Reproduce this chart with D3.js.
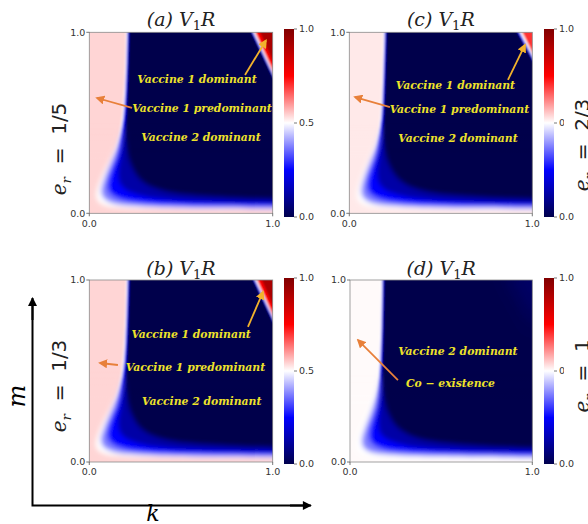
<!DOCTYPE html>
<meta charset="utf-8">
<script src="https://d3js.org/d3.v7.min.js"></script>
<style>
  body { margin: 0; background: #fff; }
</style>
<div id="chart"></div>
<script>

// ---- data ----
var panelTags = ["(a)", "(b)", "(c)", "(d)"];
var erLabels = ["1/5", "1/3", "2/3", "1"];
var leftValues = [0.541, 0.541, 0.522, 0.505];   // value of the flat region at small k
var cbTicks = [0, 0.5, 1];
var cbTickLabels = ["0.0", "0.5", "1.0"];
var axisTicks = [0, 1];
var axisTickLabels = ["0.0", "1.0"];

// contour lines of V1R in (k, m), from m = 1 down and round to k = 1
var contoursA = [
  [0.5,   [[0.200,1],[0.193,0.75],[0.180,0.55],[0.165,0.45],[0.140,0.36],[0.110,0.29],[0.080,0.23],[0.055,0.17],[0.040,0.12],[0.040,0.085],[0.055,0.06],[0.090,0.042],[0.16,0.032],[0.30,0.026],[0.60,0.022],[1,0.020]]],
  [0.375, [[0.206,1],[0.199,0.75],[0.187,0.55],[0.172,0.45],[0.150,0.36],[0.123,0.29],[0.097,0.23],[0.077,0.175],[0.066,0.13],[0.070,0.10],[0.090,0.075],[0.13,0.056],[0.22,0.043],[0.40,0.034],[0.70,0.029],[1,0.026]]],
  [0.25,  [[0.210,1],[0.203,0.75],[0.192,0.55],[0.179,0.45],[0.160,0.36],[0.138,0.29],[0.118,0.235],[0.104,0.185],[0.100,0.145],[0.110,0.115],[0.14,0.09],[0.19,0.072],[0.30,0.056],[0.50,0.045],[1,0.037]]],
  [0.125, [[0.214,1],[0.208,0.75],[0.198,0.55],[0.188,0.45],[0.176,0.36],[0.165,0.29],[0.158,0.24],[0.158,0.20],[0.170,0.16],[0.200,0.13],[0.25,0.108],[0.35,0.084],[0.55,0.066],[1,0.054]]],
  [0.0,   [[0.218,1],[0.212,0.75],[0.205,0.55],[0.200,0.45],[0.205,0.36],[0.215,0.30],[0.235,0.25],[0.265,0.20],[0.30,0.168],[0.36,0.138],[0.45,0.114],[0.65,0.094],[1,0.078]]]
];
var contoursB = [
  [0.5,   [[0.201,1],[0.194,0.75],[0.182,0.55],[0.167,0.45],[0.142,0.36],[0.112,0.29],[0.080,0.23],[0.054,0.17],[0.038,0.12],[0.037,0.085],[0.052,0.06],[0.088,0.043],[0.16,0.033],[0.30,0.027],[0.60,0.023],[1,0.021]]],
  [0.375, [[0.207,1],[0.200,0.75],[0.189,0.55],[0.174,0.45],[0.152,0.36],[0.125,0.29],[0.098,0.23],[0.077,0.175],[0.064,0.13],[0.068,0.10],[0.088,0.075],[0.13,0.057],[0.22,0.044],[0.40,0.035],[0.70,0.030],[1,0.027]]],
  [0.25,  [[0.211,1],[0.204,0.75],[0.194,0.55],[0.181,0.45],[0.162,0.36],[0.140,0.29],[0.119,0.235],[0.104,0.185],[0.099,0.145],[0.109,0.115],[0.14,0.09],[0.19,0.073],[0.30,0.057],[0.50,0.046],[1,0.038]]],
  [0.125, [[0.215,1],[0.209,0.75],[0.200,0.55],[0.190,0.45],[0.178,0.36],[0.167,0.29],[0.159,0.24],[0.158,0.20],[0.170,0.16],[0.200,0.13],[0.25,0.109],[0.35,0.085],[0.55,0.067],[1,0.055]]],
  [0.0,   [[0.219,1],[0.213,0.75],[0.206,0.55],[0.201,0.45],[0.206,0.36],[0.216,0.30],[0.236,0.25],[0.266,0.20],[0.30,0.169],[0.36,0.139],[0.45,0.116],[0.65,0.096],[1,0.080]]]
];
var contoursC = [
  [0.5,   [[0.186,1],[0.180,0.75],[0.170,0.55],[0.156,0.45],[0.133,0.36],[0.104,0.29],[0.077,0.23],[0.056,0.17],[0.043,0.12],[0.043,0.085],[0.058,0.06],[0.092,0.042],[0.165,0.032],[0.31,0.026],[0.60,0.021],[1,0.019]]],
  [0.375, [[0.192,1],[0.185,0.75],[0.176,0.55],[0.163,0.45],[0.143,0.36],[0.117,0.29],[0.093,0.23],[0.075,0.175],[0.066,0.13],[0.070,0.10],[0.090,0.075],[0.13,0.056],[0.22,0.043],[0.40,0.034],[0.70,0.029],[1,0.026]]],
  [0.25,  [[0.196,1],[0.189,0.75],[0.181,0.55],[0.170,0.45],[0.152,0.36],[0.131,0.29],[0.114,0.235],[0.101,0.185],[0.098,0.145],[0.108,0.115],[0.14,0.09],[0.19,0.072],[0.30,0.056],[0.50,0.045],[1,0.037]]],
  [0.125, [[0.200,1],[0.194,0.75],[0.186,0.55],[0.178,0.45],[0.167,0.36],[0.157,0.29],[0.152,0.24],[0.153,0.20],[0.166,0.16],[0.196,0.13],[0.25,0.108],[0.35,0.084],[0.55,0.066],[1,0.054]]],
  [0.0,   [[0.204,1],[0.198,0.75],[0.192,0.55],[0.188,0.45],[0.193,0.36],[0.204,0.30],[0.225,0.25],[0.258,0.20],[0.295,0.168],[0.355,0.138],[0.45,0.114],[0.65,0.094],[1,0.078]]]
];
var contoursD = [
  [0.5,   [[0.172,1],[0.168,0.75],[0.160,0.55],[0.150,0.45],[0.130,0.36],[0.105,0.29],[0.075,0.22],[0.050,0.16],[0.035,0.11],[0.035,0.075],[0.050,0.05],[0.090,0.035],[0.18,0.027],[0.35,0.022],[0.65,0.019],[1,0.017]]],
  [0.375, [[0.176,1],[0.172,0.75],[0.165,0.55],[0.157,0.45],[0.142,0.36],[0.122,0.29],[0.098,0.225],[0.078,0.17],[0.066,0.125],[0.068,0.095],[0.085,0.07],[0.12,0.052],[0.22,0.04],[0.45,0.031],[1,0.025]]],
  [0.25,  [[0.180,1],[0.176,0.75],[0.170,0.55],[0.164,0.45],[0.154,0.36],[0.140,0.29],[0.124,0.235],[0.111,0.19],[0.105,0.15],[0.112,0.115],[0.135,0.09],[0.18,0.072],[0.29,0.056],[0.50,0.045],[1,0.037]]],
  [0.125, [[0.184,1],[0.180,0.75],[0.175,0.55],[0.170,0.45],[0.165,0.36],[0.160,0.29],[0.156,0.245],[0.156,0.20],[0.166,0.16],[0.195,0.13],[0.245,0.108],[0.34,0.084],[0.55,0.066],[1,0.054]]],
  [0.0,   [[0.188,1],[0.185,0.75],[0.181,0.55],[0.180,0.45],[0.186,0.36],[0.197,0.30],[0.218,0.25],[0.250,0.20],[0.29,0.168],[0.35,0.138],[0.45,0.114],[0.65,0.094],[1,0.078]]]
];

// top-right corner: [value, k where the level meets m = 1, m where it meets k = 1]
var cornerA = [[0.25,0.885,0.755],[0.5,0.893,0.770],[0.75,0.905,0.790],[0.92,0.930,0.840]];
var cornerB = [[0.25,0.895,0.775],[0.5,0.903,0.790],[0.75,0.915,0.810],[0.92,0.940,0.860]];
var cornerC = [[0.25,0.920,0.850],[0.5,0.930,0.865],[0.7,0.945,0.890]];
var cornerD = [[0.035,0.880,0.780]];

// annotations: [text, k, m]
var notesA = [["Vaccine 1 dominant",0.587,0.742],["Vaccine 1 predominant",0.615,0.582],["Vaccine 2 dominant",0.609,0.422]];
var notesB = [["Vaccine 1 dominant",0.555,0.703],["Vaccine 1 predominant",0.579,0.522],["Vaccine 2 dominant",0.613,0.335]];
var notesC = [["Vaccine 1 dominant",0.580,0.709],["Vaccine 1 predominant",0.602,0.577],["Vaccine 2 dominant",0.594,0.417]];
var notesD = [["Vaccine 2 dominant",0.592,0.610],["Co \u2212 existence",0.551,0.434]];

// arrows: [colour, k tail, m tail, k head, m head]
var arrowsA = [["orange",0.233,0.582,0.042,0.637],["gold",0.849,0.764,0.963,0.955]];
var arrowsB = [["orange",0.156,0.533,0.058,0.544],["gold",0.865,0.742,0.947,0.934]];
var arrowsC = [["orange",0.222,0.587,0.031,0.642],["gold",0.867,0.737,0.960,0.930]];
var arrowsD = [["orange",0.263,0.450,0.044,0.670]];

var contours = [contoursA, contoursB, contoursC, contoursD];
var corners = [cornerA, cornerB, cornerC, cornerD];
var notes = [notesA, notesB, notesC, notesD];
var arrows = [arrowsA, arrowsB, arrowsC, arrowsD];

// ---- layout ----
var layout = [
  {x0: 89.3, x1: 272.7, y0: 32.3, y1: 213.3, cbx: 284, cb0: 29, cb1: 217, ty: 26, lx: 66, ly: 149, side: "left", cornerSoft: false},
  {x0: 89.3, x1: 272.7, y0: 280, y1: 462, cbx: 284, cb0: 278, cb1: 464, ty: 275, lx: 66, ly: 386, side: "left", cornerSoft: false},
  {x0: 349.3, x1: 532.3, y0: 32.3, y1: 213.3, cbx: 544, cb0: 29, cb1: 217, ty: 26, lx: 589, ly: 145, side: "right", cornerSoft: false},
  {x0: 350, x1: 532.3, y0: 280, y1: 462, cbx: 544, cb0: 278, cb1: 464, ty: 275, lx: 589, ly: 376, side: "right", cornerSoft: true}
];

// matplotlib "seismic"
var seismic = d3.scaleLinear()
  .domain([0, 0.25, 0.5, 0.75, 1])
  .range(["#00004c", "#0000ff", "#ffffff", "#ff0000", "#800000"]);

var arrowColor = {orange: "#e8803a", gold: "#f2b22c"};

var svg = d3.select("#chart")
  .append("svg")
    .attr("width", 588)
    .attr("height", 524);

var defs = svg.append("defs");
defs.append("filter").attr("id", "sharp")
  .append("feGaussianBlur").attr("stdDeviation", 1.0);
defs.append("filter").attr("id", "soft")
  .append("feGaussianBlur").attr("stdDeviation", 2.6);
defs.append("filter").attr("id", "haze")
  .attr("x", "-50%").attr("y", "-50%").attr("width", "200%").attr("height", "200%")
  .append("feGaussianBlur").attr("stdDeviation", 9);

var grad = defs.append("linearGradient").attr("id", "cbgrad")
  .attr("x1", 0).attr("y1", 1).attr("x2", 0).attr("y2", 0);
seismic.domain().forEach(function (v) {
  grad.append("stop").attr("offset", v).attr("stop-color", seismic(v));
});

Object.keys(arrowColor).forEach(function (c) {
  defs.append("marker")
    .attr("id", "head-" + c)
    .attr("viewBox", "0 0 10 10")
    .attr("refX", 8).attr("refY", 5)
    .attr("markerWidth", 9).attr("markerHeight", 9)
    .attr("markerUnits", "userSpaceOnUse")
    .attr("orient", "auto")
    .append("path")
      .attr("d", "M0,0 L10,5 L0,10 z")
      .attr("fill", arrowColor[c]);
});

var line = d3.line().curve(d3.curveCatmullRom.alpha(0.5));

layout.forEach(function (L, i) {
  var x = d3.scaleLinear().domain([0, 1]).range([L.x0, L.x1]);
  var y = d3.scaleLinear().domain([0, 1]).range([L.y1, L.y0]);
  var xy = function (p) { return [x(p[0]), y(p[1])]; };

  defs.append("clipPath").attr("id", "clip" + i)
    .append("rect")
      .attr("x", x(0)).attr("y", y(1))
      .attr("width", x(1) - x(0)).attr("height", y(0) - y(1));

  // the heat map is drawn once in defs, then shown sharp at the top and soft near the bottom
  var field = defs.append("g").attr("id", "field" + i);

  field.append("rect")
    .attr("x", x(-0.1)).attr("y", y(1.1))
    .attr("width", x(1.2) - x(0)).attr("height", y(-0.1) - y(1.1))
    .attr("fill", seismic(leftValues[i]));

  contours[i].forEach(function (c) {
    var pts = c[1];
    var poly = [[pts[0][0], 1.08]].concat(pts, [[1.08, pts[pts.length - 1][1]], [1.08, 1.08]]);
    field.append("path")
      .attr("d", line(poly.map(xy)) + "Z")
      .attr("fill", seismic(c[0]));
  });

  corners[i].forEach(function (c) {
    var dk = 1 - c[1], dm = 1 - c[2];
    var poly = [[c[1] - dk * 0.2, 1 + dm * 0.2], [1 + dk * 0.2, c[2] - dm * 0.2], [1.15, 1.15]];
    var p = field.append("path")
      .attr("d", d3.line()(poly.map(xy)) + "Z")
      .attr("fill", seismic(c[0]));
    if (L.cornerSoft) p.attr("filter", "url(#haze)");
  });

  var mg = defs.append("linearGradient").attr("id", "mgrad" + i)
    .attr("gradientUnits", "userSpaceOnUse")
    .attr("x1", 0).attr("x2", 0).attr("y1", y(0.5)).attr("y2", y(0.3));
  mg.append("stop").attr("offset", 0).attr("stop-color", "#000");
  mg.append("stop").attr("offset", 1).attr("stop-color", "#fff");
  defs.append("mask").attr("id", "mask" + i)
    .attr("maskUnits", "userSpaceOnUse")
    .attr("x", 0).attr("y", 0).attr("width", 588).attr("height", 524)
    .append("rect")
      .attr("x", x(-0.1)).attr("y", y(1.1))
      .attr("width", x(1.2) - x(0)).attr("height", y(-0.1) - y(1.1))
      .attr("fill", "url(#mgrad" + i + ")");

  var holder = svg.append("g").attr("clip-path", "url(#clip" + i + ")");
  holder.append("use").attr("href", "#field" + i).attr("filter", "url(#sharp)");
  holder.append("g").attr("mask", "url(#mask" + i + ")")
    .append("use").attr("href", "#field" + i).attr("filter", "url(#soft)");

  // frame
  svg.append("rect")
    .attr("x", x(0)).attr("y", y(1))
    .attr("width", x(1) - x(0)).attr("height", y(0) - y(1))
    .attr("fill", "none").attr("stroke", "#8a8a8a").attr("stroke-width", 0.8);

  // ticks on the heat map
  axisTicks.forEach(function (t, j) {
    svg.append("line")
      .attr("x1", x(0) - 3).attr("x2", x(0)).attr("y1", y(t)).attr("y2", y(t))
      .attr("stroke", "#555").attr("stroke-width", 0.8);
    svg.append("text")
      .attr("x", x(0) - 4).attr("y", y(t)).attr("dy", "0.35em")
      .attr("text-anchor", "end")
      .style("font-family", "DejaVu Sans").style("font-size", "9.5px").style("fill", "#333")
      .text(axisTickLabels[j]);
    svg.append("line")
      .attr("x1", x(t)).attr("x2", x(t)).attr("y1", y(0)).attr("y2", y(0) + 3)
      .attr("stroke", "#555").attr("stroke-width", 0.8);
    svg.append("text")
      .attr("x", x(t)).attr("y", y(0) + 10).attr("dy", "0.35em")
      .attr("text-anchor", "middle")
      .style("font-family", "DejaVu Sans").style("font-size", "9.5px").style("fill", "#333")
      .text(axisTickLabels[j]);
  });

  // title
  var title = svg.append("text")
    .attr("x", (x(0) + x(1)) / 2).attr("y", L.ty)
    .attr("text-anchor", "middle")
    .style("font-family", "DejaVu Serif").style("font-size", "19px").style("fill", "#222");
  title.append("tspan").style("font-style", "italic").text(panelTags[i] + " V");
  title.append("tspan").attr("dy", 4).style("font-size", "13px").text("1");
  title.append("tspan").attr("dy", -4).style("font-style", "italic").text("R");

  // annotations
  notes[i].forEach(function (n) {
    svg.append("text")
      .attr("x", x(n[1])).attr("y", y(n[2])).attr("dy", "0.35em")
      .attr("text-anchor", "middle")
      .style("font-family", "DejaVu Serif").style("font-weight", "bold").style("font-style", "italic")
      .style("font-size", "10.8px").style("fill", "#eee22a")
      .text(n[0]);
  });
  arrows[i].forEach(function (a) {
    svg.append("line")
      .attr("x1", x(a[1])).attr("y1", y(a[2]))
      .attr("x2", x(a[3])).attr("y2", y(a[4]))
      .attr("stroke", arrowColor[a[0]]).attr("stroke-width", 1.8)
      .attr("marker-end", "url(#head-" + a[0] + ")");
  });

  // colour bar
  var cy = d3.scaleLinear().domain([0, 1]).range([L.cb1, L.cb0]);
  svg.append("rect")
    .attr("x", L.cbx).attr("y", cy(1))
    .attr("width", 10).attr("height", cy(0) - cy(1))
    .attr("fill", "url(#cbgrad)");
  cbTicks.forEach(function (t, j) {
    svg.append("line")
      .attr("x1", L.cbx + 10).attr("x2", L.cbx + 13).attr("y1", cy(t)).attr("y2", cy(t))
      .attr("stroke", "#555").attr("stroke-width", 0.8);
    svg.append("text")
      .attr("x", L.cbx + 15).attr("y", cy(t)).attr("dy", "0.35em")
      .style("font-family", "DejaVu Sans").style("font-size", "9.5px").style("fill", "#333")
      .text(cbTickLabels[j]);
  });

  // e_r label
  var lab = svg.append("g").attr("transform", "translate(" + L.lx + "," + L.ly + ") rotate(-90)");
  if (L.side === "right") {
    lab.append("rect").attr("x", -50).attr("y", -25).attr("width", 100).attr("height", 30).attr("fill", "#fff");
  }
  var t = lab.append("text")
    .attr("text-anchor", "middle")
    .attr("xml:space", "preserve")
    .style("font-family", "DejaVu Sans").style("font-size", "20px").style("fill", "#222");
  t.append("tspan").style("font-family", "DejaVu Serif").style("font-style", "italic").text("e");
  t.append("tspan").attr("dy", 5).style("font-family", "DejaVu Serif").style("font-style", "italic").style("font-size", "13.5px").text("r");
  t.append("tspan").attr("dy", -5).text("  =  " + erLabels[i]);
});

// outer m / k axes
defs.append("marker")
  .attr("id", "blackhead")
  .attr("viewBox", "0 0 10 10")
  .attr("refX", 9).attr("refY", 5)
  .attr("markerWidth", 11).attr("markerHeight", 9)
  .attr("markerUnits", "userSpaceOnUse")
  .attr("orient", "auto")
  .append("path").attr("d", "M0,0 L10,5 L0,10 z").attr("fill", "#000");

svg.append("path")
  .attr("d", "M32.5,300 L32.5,505.5 L309,505.5")
  .attr("fill", "none").attr("stroke", "#000").attr("stroke-width", 2);
svg.append("line")
  .attr("x1", 32.5).attr("y1", 320).attr("x2", 32.5).attr("y2", 298)
  .attr("stroke", "#000").attr("stroke-width", 2).attr("marker-end", "url(#blackhead)");
svg.append("line")
  .attr("x1", 290).attr("y1", 505.5).attr("x2", 311).attr("y2", 505.5)
  .attr("stroke", "#000").attr("stroke-width", 2).attr("marker-end", "url(#blackhead)");

svg.append("text")
  .attr("transform", "translate(25,396) rotate(-90)")
  .attr("text-anchor", "middle")
  .style("font-family", "DejaVu Serif").style("font-style", "italic").style("font-size", "24px")
  .text("m");
svg.append("text")
  .attr("x", 153).attr("y", 521)
  .attr("text-anchor", "middle")
  .style("font-family", "DejaVu Serif").style("font-style", "italic").style("font-size", "22px")
  .text("k");

</script>
